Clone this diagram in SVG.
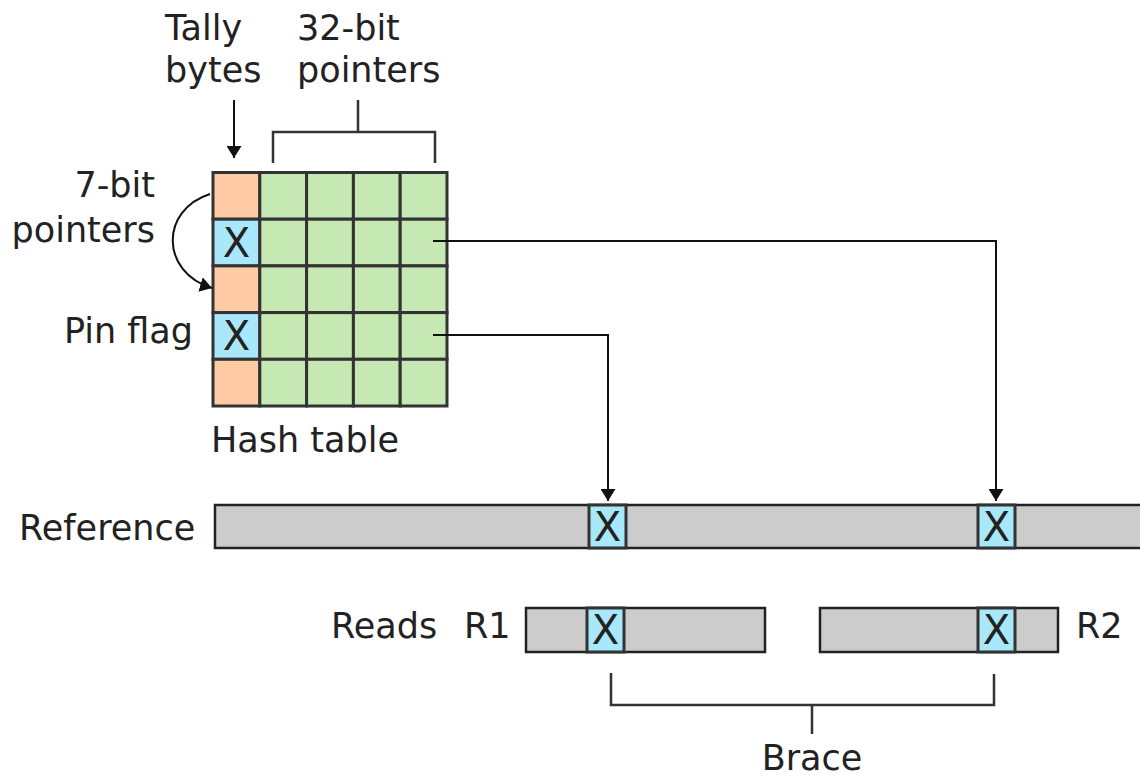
<svg xmlns="http://www.w3.org/2000/svg" width="1140" height="777" viewBox="0 0 1140 777">
<style>
text{font-family:"DejaVu Sans","Liberation Sans",sans-serif;font-size:35px;fill:#222}
.t{fill:#FFCBA4;stroke:#333;stroke-width:3}
.g{fill:#C6E8B2;stroke:#333;stroke-width:3}
.b{fill:#A8E8FA;stroke:#333;stroke-width:3}
.bar{fill:#CCCCCC;stroke:#222;stroke-width:2.5}
.xb{fill:#A8E8FA;stroke:#333;stroke-width:3}
text.x{text-anchor:middle;font-size:40px}
.ln{fill:none;stroke:#111;stroke-width:2}
.br{fill:none;stroke:#333;stroke-width:2.5}
</style>
<defs>
<marker id="ah" viewBox="0 0 12 15" refX="12" refY="7.5" markerWidth="12" markerHeight="15" markerUnits="userSpaceOnUse" orient="auto">
<path d="M0,0 L12,7.5 L0,15 Z" fill="#111"/>
</marker>
</defs>
<rect width="1140" height="777" fill="#fff"/>

<g id="labels-top">
<text x="165" y="40">Tally</text>
<text x="165" y="82">bytes</text>
<text x="297" y="40">32-bit</text>
<text x="297" y="82">pointers</text>
<text x="155" y="197" text-anchor="end">7-bit</text>
<text x="155" y="242" text-anchor="end">pointers</text>
<text x="193" y="343" text-anchor="end">Pin flag</text>
</g>

<g id="hash-table">
<rect class="t" x="213" y="172.5" width="46.8" height="46.7"/>
<rect class="b" x="213" y="219.2" width="46.8" height="46.7"/>
<rect class="t" x="213" y="265.9" width="46.8" height="46.7"/>
<rect class="b" x="213" y="312.6" width="46.8" height="46.7"/>
<rect class="t" x="213" y="359.3" width="46.8" height="46.7"/>
<g class="g">
<rect x="259.8" y="172.5" width="46.8" height="46.7"/><rect x="306.6" y="172.5" width="46.8" height="46.7"/><rect x="353.4" y="172.5" width="46.8" height="46.7"/><rect x="400.2" y="172.5" width="46.8" height="46.7"/>
<rect x="259.8" y="219.2" width="46.8" height="46.7"/><rect x="306.6" y="219.2" width="46.8" height="46.7"/><rect x="353.4" y="219.2" width="46.8" height="46.7"/><rect x="400.2" y="219.2" width="46.8" height="46.7"/>
<rect x="259.8" y="265.9" width="46.8" height="46.7"/><rect x="306.6" y="265.9" width="46.8" height="46.7"/><rect x="353.4" y="265.9" width="46.8" height="46.7"/><rect x="400.2" y="265.9" width="46.8" height="46.7"/>
<rect x="259.8" y="312.6" width="46.8" height="46.7"/><rect x="306.6" y="312.6" width="46.8" height="46.7"/><rect x="353.4" y="312.6" width="46.8" height="46.7"/><rect x="400.2" y="312.6" width="46.8" height="46.7"/>
<rect x="259.8" y="359.3" width="46.8" height="46.7"/><rect x="306.6" y="359.3" width="46.8" height="46.7"/><rect x="353.4" y="359.3" width="46.8" height="46.7"/><rect x="400.2" y="359.3" width="46.8" height="46.7"/>
</g>
<text class="x" x="236.4" y="257">X</text>
<text class="x" x="236.4" y="350">X</text>
<text x="211" y="452">Hash table</text>
</g>

<g id="reference">
<text x="19" y="540">Reference</text>
<rect class="bar" x="215" y="505" width="940" height="43"/>
<rect class="xb" x="589" y="505" width="37" height="43"/>
<rect class="xb" x="978" y="505" width="37" height="43"/>
<text class="x" x="607.5" y="541">X</text>
<text class="x" x="996.5" y="541">X</text>
</g>

<g id="read-r1">
<text x="331" y="638">Reads</text>
<text x="464" y="638">R1</text>
<rect class="bar" x="526" y="608" width="239" height="44"/>
<rect class="xb" x="587" y="608" width="37" height="44"/>
<text class="x" x="605.5" y="644">X</text>
</g>

<g id="read-r2">
<rect class="bar" x="820" y="608" width="238" height="44"/>
<rect class="xb" x="978" y="608" width="37" height="44"/>
<text class="x" x="996.5" y="644">X</text>
<text x="1076" y="638">R2</text>
</g>

<g id="brace">
<path class="br" d="M611,673 V705 H994 V674 M812,705 V734"/>
<text x="812" y="770" text-anchor="middle">Brace</text>
</g>

<g id="connectors">
<path class="ln" d="M234,100 V158" marker-end="url(#ah)"/>
<path class="br" d="M273,163 V132 H435 V163 M358,132 V100"/>
<path class="ln" d="M210,194 C160,210 160,272 212,288" marker-end="url(#ah)"/>
<path class="ln" d="M433,241 H996 V501" marker-end="url(#ah)"/>
<path class="ln" d="M433,335 H608 V501" marker-end="url(#ah)"/>
</g>
</svg>
